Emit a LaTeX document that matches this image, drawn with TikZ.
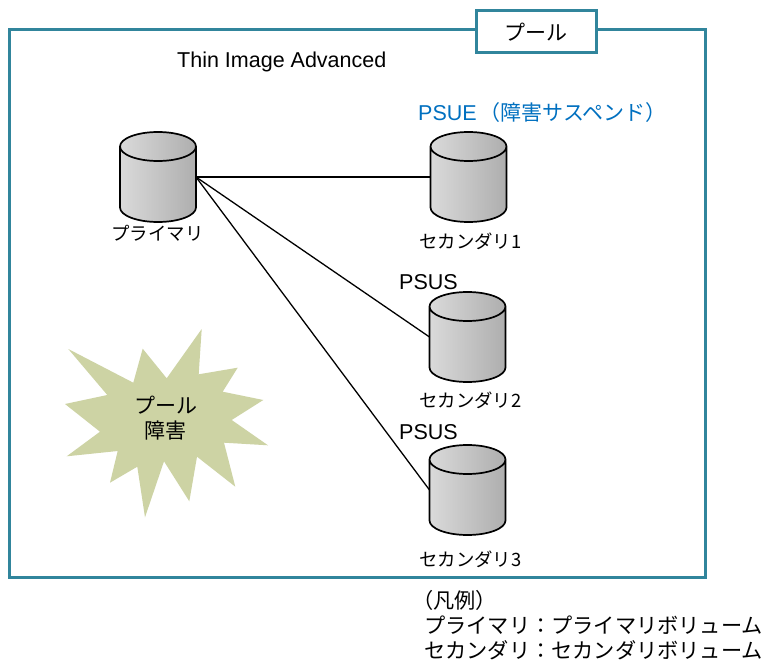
\documentclass[tikz,border=0pt]{standalone}
\usepackage{fontspec}
\setmainfont{Liberation Sans}
\newfontfamily\cjk{Noto Sans CJK JP}
\definecolor{frameteal}{HTML}{31859C}
\definecolor{starfill}{HTML}{CDD3A4}
\definecolor{psueblue}{HTML}{0070C0}
\definecolor{cylL}{HTML}{DADADA}
\definecolor{cylR}{HTML}{AEAEAE}
\tikzset{
  vol/.style={rectangle,minimum width=76pt,minimum height=90pt,inner sep=0pt,outer sep=0pt},
  volline/.style={draw=black,line width=1.7pt,line join=round},
  link/.style={draw=black,line width=1.3pt},
  small/.style={font=\cjk\fontsize{18.4}{20}\selectfont,text=black,inner sep=0pt},
  lat/.style={font=\fontsize{21.5}{24}\selectfont,text=black,inner sep=0pt},
  legend/.style={font=\cjk\fontsize{21.2}{24}\selectfont,text=black,inner sep=0pt,anchor=west},
  boxline/.style={draw=frameteal,line width=3pt,fill=white,inner sep=0pt,outer sep=0pt,anchor=north west},
}
\newcommand\volbody[1]{%
  \shade[left color=cylL,right color=cylR]
    ([yshift=-14.5pt]#1.north west) arc[start angle=180,end angle=0,x radius=38pt,y radius=14.5pt]
    -- ([yshift=14.5pt]#1.south east) arc[start angle=0,end angle=-180,x radius=38pt,y radius=14.5pt] -- cycle;
  \path[volline]
    ([yshift=-14.5pt]#1.north west) arc[start angle=180,end angle=-180,x radius=38pt,y radius=14.5pt]
    -- ([yshift=14.5pt]#1.south west) arc[start angle=180,end angle=360,x radius=38pt,y radius=14.5pt]
    -- ([yshift=-14.5pt]#1.north east);
}
\begin{document}
\begin{tikzpicture}[x=1pt,y=-1pt]
\useasboundingbox (0,0) rectangle (764,661);
\node[boxline,minimum width=696pt,minimum height=547pt] (pool) at (9.5,30) {};
\node[boxline,minimum width=120pt,minimum height=42pt,font=\cjk\fontsize{21}{24}\selectfont] (tag) at (476,11) {プール};
\node[lat,anchor=west] (title) at (177,62) {Thin Image Advanced};
\node[vol] (prim) at (158,177) {};
\node[vol] (sec1) at (468.5,177) {};
\node[vol] (sec2) at (467.5,337) {};
\node[vol] (sec3) at (467.5,490) {};
\volbody{prim}\volbody{sec1}\volbody{sec2}\volbody{sec3}
\draw[link] (prim.east) -- (sec1.west);
\draw[link] (prim.east) -- (sec2.west);
\draw[link] (prim.east) -- (sec3.west);
\node[small] (primlab) at (157.5,233) {プライマリ};
\node[small,anchor=west] (sec1lab) at (419,241) {セカンダリ1};
\node[small,anchor=west] (sec2lab) at (419,400) {セカンダリ2};
\node[small,anchor=west] (sec3lab) at (419,559) {セカンダリ3};
\node[anchor=west,inner sep=0pt,text=psueblue,font=\fontsize{21.5}{24}\selectfont] (psue) at (418,113) {PSUE\kern3pt{\cjk\fontsize{21}{24}\selectfont（障害サスペンド）}};
\node[lat,anchor=west] (psus2) at (399,282) {PSUS};
\node[lat,anchor=west] (psus3) at (399,432) {PSUS};
\fill[starfill] (68.3,349) -- (133.3,382.7) -- (142.7,348.7) -- (166.7,378.3) -- (201.7,329) -- (198.7,374.3) -- (237.7,367.7) -- (222.7,391.7) -- (263.3,400) -- (231.7,420) -- (268,445.3) -- (224,442.7) -- (235.3,486.7) -- (197,456.7) -- (189.3,501.3) -- (164,461.3) -- (145,517.3) -- (137.3,466.7) -- (110,482.7) -- (117.7,451) -- (66.7,456.3) -- (100,431.7) -- (65,404) -- (107.3,395) -- cycle;
\node[font=\cjk\fontsize{21}{25}\selectfont,text=black,inner sep=0pt,align=center] (fault) at (165.5,418) {プール\\障害};
\node[legend] (lg1) at (412,600) {（凡例）};
\node[legend] (lg2) at (424,625.5) {プライマリ：プライマリボリューム};
\node[legend] (lg3) at (424,650.3) {セカンダリ：セカンダリボリューム};
\end{tikzpicture}
\end{document}
